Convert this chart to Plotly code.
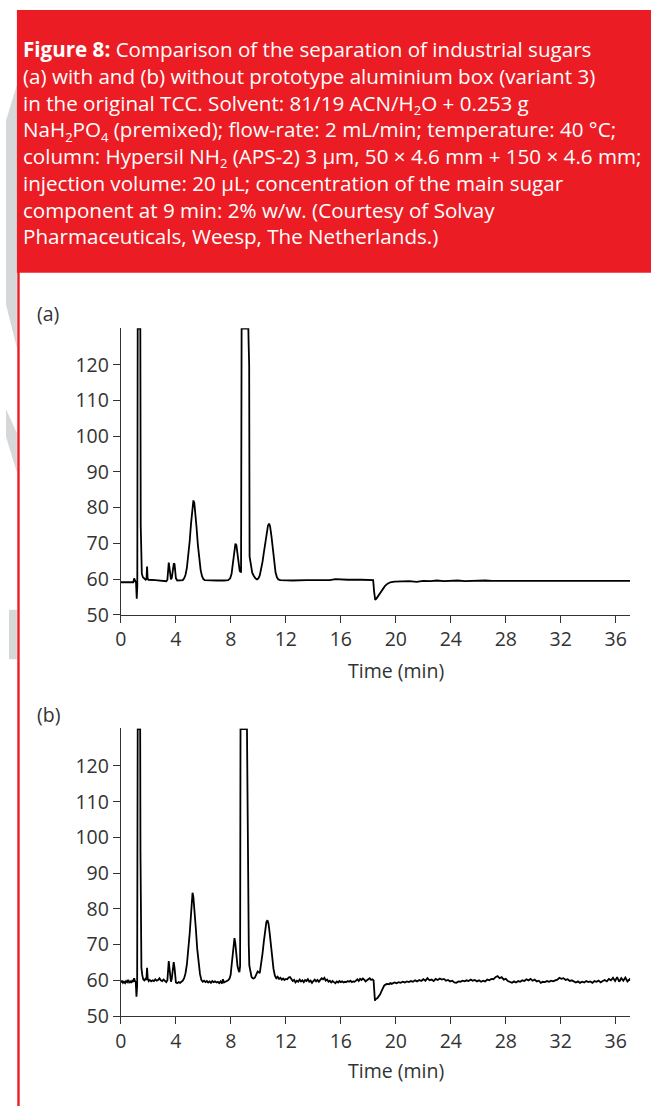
import plotly.graph_objects as go

W, H = 651, 1119

# ---- chromatogram (a): with aluminium box ----
time_a = [0.00, 0.50, 0.90, 0.96, 1.02, 1.10, 1.15, 1.19, 1.22, 1.41, 1.44, 1.47, 1.52, 1.60, 1.70,
          1.80, 1.86, 1.90, 1.94, 2.00, 2.50, 3.00, 3.20, 3.30, 3.38, 3.44, 3.48, 3.52, 3.58, 3.64,
          3.70, 3.78, 3.85, 3.90, 3.95, 4.00, 4.10, 4.30, 4.50, 4.60, 4.70, 4.80, 4.90, 5.00, 5.10,
          5.20, 5.27, 5.34, 5.42, 5.50, 5.60, 5.70, 5.80, 5.90, 6.00, 6.10, 6.50, 7.00, 7.50, 7.80,
          7.95, 8.05, 8.15, 8.25, 8.33, 8.40, 8.48, 8.56, 8.64, 8.70, 8.74, 8.78, 9.27, 9.29, 9.33,
          9.36, 9.45, 9.55, 9.65, 9.78, 9.90, 10.00, 10.10, 10.20, 10.30, 10.40, 10.50, 10.60, 10.70,
          10.78, 10.85, 10.95, 11.05, 11.15, 11.25, 11.35, 11.45, 11.60, 12.50, 13.50, 14.50, 15.20,
          15.60, 16.50, 17.50, 18.30, 18.35, 18.42, 18.50, 18.60, 18.80, 19.00, 19.20, 19.40, 19.60,
          19.90, 20.50, 21.00, 21.50, 22.00, 22.50, 23.00, 23.50, 24.00, 24.50, 25.00, 25.50, 26.00,
          26.50, 27.00, 27.50, 28.00, 28.50, 29.00, 29.50, 30.00, 30.50, 31.00, 31.50, 32.00, 32.50,
          33.00, 33.50, 34.00, 34.50, 35.00, 35.50, 36.00, 36.50, 37.05]
signal_a = [59.1, 59.1, 59.1, 60.2, 59.4, 59.0, 54.5, 58.0, 130.1, 130.1, 75.0, 64.0, 61.5, 60.5, 60.0,
            59.8, 60.0, 63.5, 60.2, 59.8, 59.7, 59.6, 59.6, 59.4, 59.8, 63.0, 64.6, 63.5, 61.0, 59.9,
            60.3, 62.5, 64.4, 64.2, 62.0, 60.2, 59.6, 59.6, 59.7, 60.2, 61.2, 63.2, 66.5, 70.5, 75.5,
            80.3, 82.0, 81.3, 78.5, 74.5, 69.5, 65.5, 62.5, 60.8, 60.0, 59.7, 59.6, 59.6, 59.6, 59.7,
            60.2, 61.5, 64.5, 68.0, 69.9, 69.5, 67.0, 64.0, 62.3, 62.0, 62.0, 130.1, 130.1, 126.0, 120.0,
            66.3, 63.5, 61.8, 61.0, 60.2, 59.9, 60.2, 61.0, 62.5, 64.8, 67.5, 70.5, 73.2, 75.0,
            75.5, 74.8, 72.0, 68.0, 64.3, 61.8, 60.5, 59.9, 59.7, 59.6, 59.7, 59.8, 59.7,
            60.0, 59.8, 59.8, 59.8, 59.7, 56.5, 54.2, 54.6, 55.8, 57.0, 58.0, 58.7, 59.1,
            59.3, 59.4, 59.4, 59.2, 59.5, 59.4, 59.6, 59.4, 59.5, 59.6, 59.4, 59.5, 59.5,
            59.6, 59.5, 59.5, 59.6, 59.5, 59.5, 59.4, 59.5, 59.6, 59.4, 59.5, 59.6, 59.5,
            59.4, 59.6, 59.5, 59.4, 59.6, 59.5, 59.5, 59.6, 59.5]

# ---- chromatogram (b): without aluminium box ----
time_b = [0.00, 0.08, 0.15, 0.22, 0.30, 0.38, 0.45, 0.52, 0.60, 0.68, 0.75, 0.82, 0.90, 0.96, 1.02,
          1.08, 1.13, 1.18, 1.22, 1.40, 1.42, 1.46, 1.49, 1.55, 1.62, 1.70, 1.78, 1.85, 1.90, 1.95,
          2.02, 2.10, 2.20, 2.30, 2.40, 2.50, 2.60, 2.70, 2.80, 2.90, 3.00, 3.10, 3.20, 3.30, 3.38,
          3.44, 3.48, 3.52, 3.58, 3.64, 3.70, 3.77, 3.84, 3.90, 3.95, 4.00, 4.10, 4.20, 4.30, 4.40,
          4.50, 4.60, 4.70, 4.80, 4.90, 5.00, 5.10, 5.17, 5.21, 5.27, 5.35, 5.45, 5.55, 5.65, 5.75,
          5.85, 5.95, 6.05, 6.15, 6.25, 6.35, 6.45, 6.55, 6.65, 6.75, 6.85, 6.95, 7.05, 7.15, 7.25,
          7.35, 7.42, 7.50, 7.60, 7.70, 7.80, 7.90, 7.98, 8.06, 8.14, 8.21, 8.26, 8.32, 8.40, 8.48,
          8.56, 8.62, 8.67, 8.70, 9.17, 9.20, 9.24, 9.30, 9.34, 9.42, 9.50, 9.58, 9.66, 9.75, 9.85,
          9.95, 10.10, 10.20, 10.30, 10.40, 10.50, 10.58, 10.66, 10.74, 10.82, 10.90, 11.00, 11.10,
          11.20, 11.30, 11.40, 11.50, 11.60, 11.70, 11.80, 11.90, 12.00, 12.10, 12.20, 12.30, 12.40,
          12.50, 12.60, 12.70, 12.80, 12.90, 13.00, 13.10, 13.20, 13.30, 13.40, 13.50, 13.60, 13.70,
          13.80, 13.90, 14.00, 14.10, 14.20, 14.30, 14.40, 14.50, 14.60, 14.70, 14.80, 14.90, 15.00,
          15.10, 15.20, 15.30, 15.40, 15.50, 15.60, 15.70, 15.80, 15.90, 16.00, 16.10, 16.20, 16.30,
          16.40, 16.50, 16.60, 16.70, 16.80, 16.90, 17.00, 17.10, 17.20, 17.30, 17.40, 17.50, 17.60,
          17.70, 17.80, 17.90, 18.00, 18.10, 18.20, 18.30, 18.38, 18.42, 18.48, 18.55, 18.65, 18.75,
          18.85, 18.95, 19.05, 19.15, 19.25, 19.35, 19.50, 19.60, 19.70, 19.80, 19.90, 20.05, 20.20,
          20.35, 20.50, 20.65, 20.80, 20.95, 21.10, 21.25, 21.40, 21.55, 21.70, 21.85, 22.00, 22.15,
          22.30, 22.45, 22.60, 22.75, 22.90, 23.05, 23.20, 23.35, 23.50, 23.65, 23.80, 23.95, 24.10,
          24.25, 24.40, 24.55, 24.70, 24.85, 25.00, 25.15, 25.30, 25.45, 25.60, 25.75, 25.90, 26.05,
          26.20, 26.35, 26.50, 26.65, 26.80, 26.95, 27.10, 27.25, 27.40, 27.55, 27.70, 27.85, 28.00,
          28.15, 28.30, 28.45, 28.60, 28.75, 28.90, 29.05, 29.20, 29.35, 29.50, 29.65, 29.80, 29.95,
          30.10, 30.25, 30.40, 30.55, 30.70, 30.85, 31.00, 31.15, 31.30, 31.45, 31.60, 31.75, 31.90,
          32.05, 32.20, 32.35, 32.50, 32.65, 32.80, 32.95, 33.10, 33.25, 33.40, 33.55, 33.70, 33.85,
          34.00, 34.15, 34.30, 34.45, 34.60, 34.75, 34.90, 35.05, 35.20, 35.35, 35.50, 35.65, 35.80,
          35.95, 36.10, 36.25, 36.40, 36.55, 36.70, 36.85, 37.00, 37.05]
signal_b = [59.4, 59.9, 59.3, 59.6, 59.2, 59.8, 59.5, 60.1, 59.4, 59.7, 59.3, 59.9, 59.6, 60.6, 59.8,
            59.5, 55.4, 58.5, 130.3, 130.3, 96.5, 70.0, 63.5, 61.5, 60.3, 60.0, 60.4, 60.1, 63.5, 60.5,
            59.8, 60.1, 59.7, 60.0, 59.8, 60.3, 59.9, 60.1, 60.6, 60.0, 59.8, 60.2, 59.7, 59.5, 60.0,
            63.5, 65.4, 63.8, 60.8, 59.6, 60.5, 63.0, 65.1, 63.5, 60.5, 59.4, 59.2, 59.5, 59.3, 59.6,
            59.9, 60.6, 62.0, 64.5, 68.3, 73.0, 78.5, 83.0, 84.5, 83.3, 80.0, 74.5, 68.8, 64.5, 61.8,
            60.1, 59.6, 59.9, 59.5, 59.8, 59.4, 59.7, 59.3, 59.8, 59.5, 59.7, 59.4, 59.6, 59.2, 59.7,
            59.1, 60.3, 59.4, 59.6, 59.8, 60.0, 60.5, 61.5, 64.5, 68.0, 71.0, 71.8, 70.5, 67.0, 64.0,
            62.8, 62.3, 64.0, 130.3, 130.3, 112.0, 93.7, 70.0, 64.2, 62.0, 61.0, 60.6, 60.5, 60.8, 61.5,
            62.5, 62.0, 64.2, 67.5, 71.0, 74.3, 76.3, 76.8, 75.8, 73.3, 70.0, 66.2, 63.2,
            61.3, 60.6, 61.0, 60.4, 60.7, 60.2, 60.5, 60.1, 60.4, 60.3, 60.8, 60.9, 60.4,
            59.8, 60.1, 59.4, 59.9, 59.6, 60.2, 59.7, 60.0, 59.5, 60.1, 59.8, 60.3, 59.6,
            59.9, 59.3, 59.8, 60.2, 59.7, 60.1, 59.6, 60.0, 60.6, 60.3, 60.7, 59.9, 60.2,
            59.6, 59.9, 59.4, 59.8, 59.5, 59.2, 59.7, 59.4, 59.8, 59.5, 59.7, 59.4, 59.6,
            59.5, 59.8, 59.6, 59.9, 59.5, 59.7, 59.6, 59.9, 60.3, 59.8, 60.4, 60.1, 60.5,
            60.2, 59.7, 60.0, 60.4, 60.6, 60.1, 60.3, 60.0, 57.0, 54.3, 54.8, 55.0, 55.5,
            56.0, 56.9, 57.9, 58.5, 58.8, 59.0, 58.9, 59.2, 59.0, 59.3, 59.4, 59.2, 59.5,
            59.3, 59.6, 59.4, 59.7, 59.5, 59.8, 59.6, 60.0, 59.7, 60.1, 59.8, 60.3, 59.9,
            60.6, 60.0, 60.2, 59.8, 60.4, 60.1, 60.5, 60.2, 60.4, 59.9, 60.1, 59.7, 59.9,
            59.4, 59.3, 59.7, 59.6, 59.9, 59.7, 60.0, 59.8, 60.2, 59.9, 60.1, 59.7, 60.0,
            59.6, 59.9, 59.7, 60.2, 60.0, 60.4, 60.3, 60.9, 61.2, 60.6, 60.9, 60.2, 60.4,
            59.8, 59.5, 59.3, 59.7, 59.4, 59.8, 59.6, 60.0, 59.8, 60.3, 60.0, 60.4, 59.9,
            60.2, 59.7, 59.9, 59.3, 59.6, 59.5, 59.8, 59.6, 59.9, 59.7, 60.0, 60.2, 60.7,
            60.4, 60.6, 60.1, 60.3, 59.8, 60.0, 59.6, 59.4, 59.7, 59.3, 59.6, 59.4, 59.8,
            59.5, 59.7, 59.3, 59.8, 59.6, 59.9, 59.4, 59.8, 60.1, 59.7, 60.4, 60.0, 60.7,
            59.8, 60.9, 59.6, 60.6, 59.9, 60.8, 59.7, 60.3, 59.9]

y_ticks = [50, 60, 70, 80, 90, 100, 110, 120]
x_ticks = [0, 4, 8, 12, 16, 20, 24, 28, 32, 36]

SUB = '<sub><span style="font-size:13px">{}</span></sub>'
caption_lines = [
    "<b>Figure 8:</b> Comparison of the separation of industrial sugars",
    "(a) with and (b) without prototype aluminium box (variant 3)",
    "in the original TCC. Solvent: 81/19 ACN/H" + SUB.format("2") + "O + 0.253 g",
    "NaH" + SUB.format("2") + "PO" + SUB.format("4")
    + " (premixed); flow-rate: 2 mL/min; temperature: 40 °C;",
    "column: Hypersil NH" + SUB.format("2") + " (APS-2) 3 µm, 50 × 4.6 mm + 150 × 4.6 mm;",
    "injection volume: 20 µL; concentration of the main sugar",
    "component at 9 min: 2% w/w. (Courtesy of Solvay",
    "Pharmaceuticals, Weesp, The Netherlands.)",
]

RED = "#ec1c24"
INK = "#333333"
FONT = "Open Sans"
AX_SIZE = 19.5
CAP_SIZE = 20.6


def px(x):
    return x / W


def py(y):
    return 1 - y / H


fig = go.Figure()
fig.add_trace(go.Scatter(x=time_a, y=signal_a, mode="lines", xaxis="x", yaxis="y",
                         line=dict(color="#000000", width=1.8), showlegend=False))
fig.add_trace(go.Scatter(x=time_b, y=signal_b, mode="lines", xaxis="x2", yaxis="y2",
                         line=dict(color="#000000", width=1.8), showlegend=False))

xdom = [px(116), px(630)]
axis_common = dict(showline=True, linecolor=INK, linewidth=1.3, ticks="outside", ticklen=7,
                   tickwidth=1.3, tickcolor=INK, showgrid=False, zeroline=False,
                   tickfont=dict(family=FONT, size=AX_SIZE, color=INK))

fig.update_layout(
    width=W, height=H, margin=dict(l=0, r=0, t=0, b=0),
    paper_bgcolor="white", plot_bgcolor="rgba(0,0,0,0)",
    xaxis=dict(domain=xdom, range=[0, 37.05], tickvals=x_ticks, anchor="y", **axis_common),
    yaxis=dict(domain=[py(622), py(332)], range=[50, 130.24], tickvals=y_ticks, anchor="x",
               **axis_common),
    xaxis2=dict(domain=xdom, range=[0, 37.05], tickvals=x_ticks, anchor="y2", **axis_common),
    yaxis2=dict(domain=[py(1028), py(737)], range=[50, 130.5], tickvals=y_ticks, anchor="x2",
                **axis_common),
)

shapes = []
# light grey background lettering at the far left
grey = "#d6d7d9"


def poly(pts):
    return "M " + " L ".join(f"{px(a):.5f},{py(b):.5f}" for a, b in pts) + " Z"


shapes.append(dict(type="path", xref="paper", yref="paper", layer="below",
                   path=poly([(11, 86), (0, 122), (0, 308), (11, 352)]),
                   fillcolor=grey, line=dict(width=0)))
shapes.append(dict(type="path", xref="paper", yref="paper", layer="below",
                   path=poly([(0, 414), (11, 438), (11, 478), (0, 442)]),
                   fillcolor=grey, line=dict(width=0)))
shapes.append(dict(type="rect", xref="paper", yref="paper", layer="below",
                   x0=px(3), x1=px(11), y0=py(667), y1=py(617),
                   fillcolor=grey, line=dict(width=0)))
# red caption panel and the red rule down the left side
shapes.append(dict(type="rect", xref="paper", yref="paper", layer="below",
                   x0=px(11), x1=1, y0=py(276), y1=py(10),
                   fillcolor=RED, line=dict(width=0)))
shapes.append(dict(type="line", xref="paper", yref="paper", layer="below",
                   x0=px(12.6), x1=px(12.6), y0=py(275), y1=0,
                   line=dict(color=RED, width=2.4)))

# caption block: one multi-line text (plotly line height = 1.3 x font size)
line_h = 1.3 * CAP_SIZE
annotations = [dict(text="<br>".join(caption_lines), xref="paper", yref="paper",
                    x=px(15), y=py(50 + 3.5 * line_h), xanchor="left", yanchor="middle",
                    align="left", showarrow=False,
                    font=dict(family=FONT, size=CAP_SIZE, color="white"))]

for lab, yc in (("(a)", 317), ("(b)", 723)):
    annotations.append(dict(text=lab, xref="paper", yref="paper", x=px(29), y=py(yc),
                            xanchor="left", yanchor="middle", showarrow=False,
                            font=dict(family=FONT, size=AX_SIZE, color=INK)))
for yc in (678, 1083):
    annotations.append(dict(text="Time (min)", xref="paper", yref="paper", x=px(394), y=py(yc),
                            xanchor="center", yanchor="middle", showarrow=False,
                            font=dict(family=FONT, size=AX_SIZE, color=INK)))

fig.update_layout(shapes=shapes, annotations=annotations)
fig.write_html("out.html")
